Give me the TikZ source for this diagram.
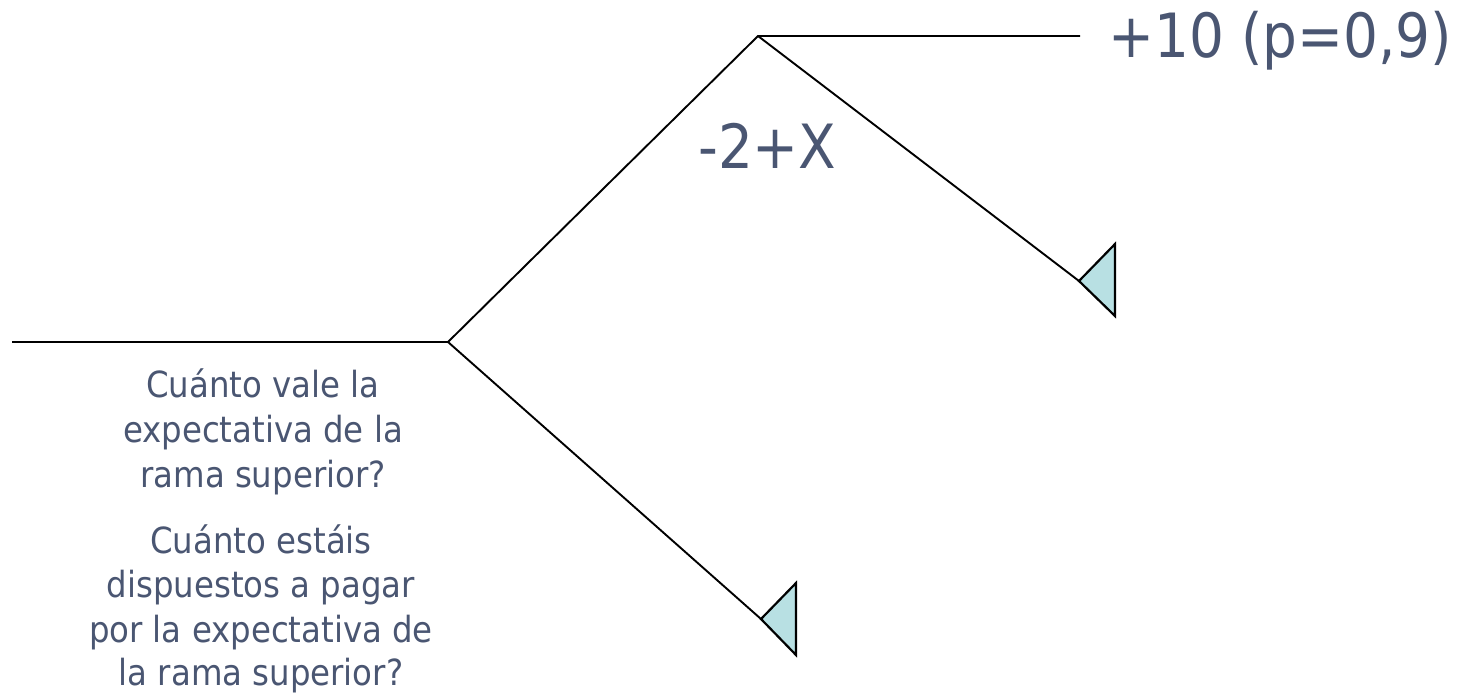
\documentclass[tikz,border=0pt]{standalone}
\usepackage{fontspec}
\setmainfont{DejaVu Sans Condensed}
\definecolor{txt}{RGB}{74,86,114}
\definecolor{tri}{RGB}{184,224,227}
\begin{document}
\begin{tikzpicture}[x=1pt,y=-1pt,
  branch/.style={draw=black,line width=1.9pt},
  leaf/.style={draw=black,fill=tri,line width=2.2pt,line join=miter},
  lbl/.style={text=txt,inner sep=0pt,anchor=base,font=\fontsize{36}{45}\selectfont},
  big/.style={text=txt,inner sep=0pt,anchor=base west,font=\fontsize{61}{70}\selectfont}]
\useasboundingbox (0,0) rectangle (1464,693);
\coordinate (start) at (12,342);
\coordinate (root) at (448,342);
\coordinate (top) at (758,36);
\coordinate (topend) at (1080,36);
\coordinate (t1) at (1079,281);
\coordinate (t1a) at (1115,244);
\coordinate (t1b) at (1115,316);
\coordinate (t2) at (761,619);
\coordinate (t2a) at (796,583);
\coordinate (t2b) at (796,655);
\draw[branch] (start) -- (root) -- (top) -- (topend);
\draw[branch] (top) -- (t1);
\draw[branch] (root) -- (t2);
\draw[leaf] (t1) -- (t1a) -- (t1b) -- cycle;
\draw[leaf] (t2) -- (t2a) -- (t2b) -- cycle;
\node[big] (payoff) at (1108,58) {+10 (p=0,9)};
\node[big] (cost) at (698,168) {-2+X};
\node[lbl] (q1a) at (263,397) {Cuánto vale la};
\node[lbl] (q1b) at (263,442) {expectativa de la};
\node[lbl] (q1c) at (263,487) {rama superior?};
\node[lbl] (q2a) at (261,553) {Cuánto estáis};
\node[lbl] (q2b) at (261,597) {dispuestos a pagar};
\node[lbl] (q2c) at (261,642) {por la expectativa de};
\node[lbl] (q2d) at (261,685) {la rama superior?};
\end{tikzpicture}
\end{document}
